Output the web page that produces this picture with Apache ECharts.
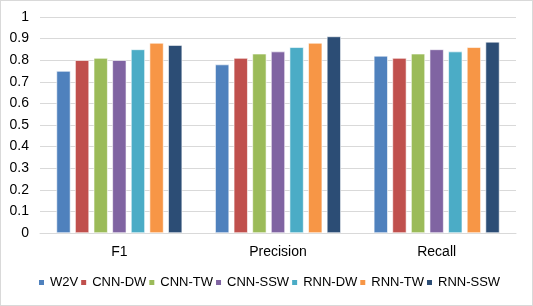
<!DOCTYPE html>
<html>
<head>
<meta charset="utf-8">
<script src="https://cdn.jsdelivr.net/npm/echarts@6/dist/echarts.min.js"></script>
<style>
  html, body { margin: 0; padding: 0; background: #fff; }
  #chart { width: 531px; height: 304px; border: 1px solid #d9d9d9; }
</style>
</head>
<body>
<div id="chart"></div>
<script>
// categories and series
var categories = ["F1", "Precision", "Recall"];
var seriesNames = ["W2V", "CNN-DW", "CNN-TW", "CNN-SSW", "RNN-DW", "RNN-TW", "RNN-SSW"];
var w2v    = [0.75, 0.78, 0.82];
var cnnDW  = [0.80, 0.81, 0.81];
var cnnTW  = [0.81, 0.83, 0.83];
var cnnSSW = [0.80, 0.84, 0.85];
var rnnDW  = [0.85, 0.86, 0.84];
var rnnTW  = [0.88, 0.88, 0.86];
var rnnSSW = [0.87, 0.91, 0.885];
var colors = ["#4F81BD", "#C0504D", "#9BBB59", "#8064A2", "#4BACC6", "#F79646", "#2C4D75"];

var allData = [w2v, cnnDW, cnnTW, cnnSSW, rnnDW, rnnTW, rnnSSW];

var chart = echarts.init(document.getElementById("chart"));
var option = {
  animation: false,
  textStyle: { fontFamily: "Liberation Sans, Arial, sans-serif" },
  grid: { left: 39, right: 16, top: 16, bottom: 72 },
  legend: {
    bottom: 16,
    left: 36,
    padding: 0,
    itemWidth: 7,
    itemHeight: 7,
    itemGap: 1,
    icon: "rect",
    textStyle: { fontSize: 13, color: "#000" },
    data: seriesNames
  },
  xAxis: {
    type: "category",
    data: categories,
    axisTick: { show: false },
    axisLine: { lineStyle: { color: "#d9d9d9" } },
    axisLabel: { color: "#000", fontSize: 14, margin: 12 }
  },
  yAxis: {
    type: "value",
    min: 0,
    max: 1,
    interval: 0.1,
    axisLabel: {
      color: "#000",
      fontSize: 14,
      margin: 11,
      formatter: function (v) { return String(Math.round(v * 10) / 10); }
    },
    axisLine: { show: false },
    axisTick: { show: false },
    splitLine: { lineStyle: { color: "#d9d9d9" } }
  },
  series: seriesNames.map(function (name, i) {
    return {
      name: name,
      type: "bar",
      data: allData[i],
      barWidth: 14,
      barGap: "33%",
      itemStyle: { color: colors[i], borderColor: "#fff", borderWidth: 0.6 }
    };
  })
};
chart.setOption(option);
</script>
</body>
</html>
